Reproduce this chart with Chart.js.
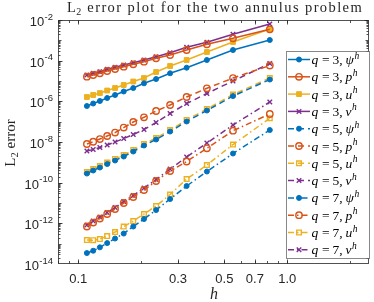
<!DOCTYPE html>
<html>
<head>
<meta charset="utf-8">
<script src="https://cdn.jsdelivr.net/npm/chart.js@4.4.0/dist/chart.umd.min.js"></script>
<style>
    html, body { margin: 0; padding: 0; background: #fff; }
    canvas { display: block; }
</style>
</head>
<body>
<canvas id="chart" width="374" height="302"></canvas>
<script>
// mesh sizes (ascending)
const hValues = [0.11, 0.1179, 0.1269, 0.1375, 0.15, 0.165, 0.1833, 0.2063, 0.2357, 0.275, 0.33, 0.4125, 0.55, 0.825];

// q = 3
const q3Psi = [5.89e-7, 7.81e-7, 1.04e-6, 1.46e-6, 2.05e-6, 3.04e-6, 4.52e-6, 7.69e-6, 1.25e-5, 2.39e-5, 4.51e-5, 1.08e-4, 3.34e-4, 1.04e-3];
const q3P = [1.63e-5, 1.97e-5, 2.39e-5, 3.10e-5, 3.89e-5, 5.05e-5, 6.62e-5, 8.89e-5, 1.31e-4, 1.90e-4, 3.34e-4, 6.38e-4, 1.26e-3, 3.49e-3];
const q3U = [1.63e-6, 2.05e-6, 2.56e-6, 3.40e-6, 4.52e-6, 6.35e-6, 9.44e-6, 1.40e-5, 2.77e-5, 5.46e-5, 1.08e-4, 2.67e-4, 8.28e-4, 3.61e-3];
const q3V = [1.97e-5, 2.39e-5, 2.86e-5, 3.76e-5, 4.71e-5, 6.12e-5, 7.94e-5, 1.08e-4, 1.57e-4, 2.46e-4, 4.54e-4, 8.00e-4, 1.98e-3, 6.35e-3];

// q = 5
const q5Psi = [2.81e-10, 3.96e-10, 5.56e-10, 8.26e-10, 1.23e-9, 1.93e-9, 3.41e-9, 6.72e-9, 1.33e-8, 3.27e-8, 1.02e-7, 3.54e-7, 1.82e-6, 1.18e-5];
const q5P = [7.96e-9, 1.03e-8, 1.40e-8, 1.97e-8, 2.92e-8, 5.15e-8, 9.61e-8, 1.64e-7, 3.34e-7, 6.59e-7, 1.63e-6, 4.37e-6, 1.40e-5, 5.78e-5];
const q5U = [3.33e-10, 4.69e-10, 6.59e-10, 9.79e-10, 1.46e-9, 2.29e-9, 4.04e-9, 7.96e-9, 1.57e-8, 3.88e-8, 1.21e-7, 4.19e-7, 2.16e-6, 1.40e-5];
const q5V = [3.60e-9, 4.27e-9, 5.36e-9, 7.10e-9, 9.98e-9, 1.48e-8, 2.33e-8, 4.11e-8, 9.08e-8, 2.52e-7, 7.81e-7, 2.43e-6, 1.00e-5, 7.25e-5];

// q = 7
const q7Psi = [3.46e-14, 4.49e-14, 6.60e-14, 1.07e-13, 1.79e-13, 3.15e-13, 6.97e-13, 1.63e-12, 4.51e-12, 1.57e-11, 6.84e-11, 3.53e-10, 2.71e-9, 3.88e-8];
const q7P = [6.97e-13, 1.09e-12, 1.72e-12, 2.87e-12, 5.05e-12, 9.98e-12, 1.97e-11, 4.35e-11, 1.21e-10, 3.74e-10, 1.10e-9, 4.89e-9, 3.59e-8, 2.38e-7];
const q7U = [1.51e-13, 1.48e-13, 1.69e-13, 2.37e-13, 3.73e-13, 6.97e-13, 1.30e-12, 2.87e-12, 7.10e-12, 2.61e-11, 1.51e-10, 7.38e-10, 7.52e-9, 1.46e-7];
const q7V = [8.24e-13, 1.30e-12, 2.04e-12, 3.40e-12, 5.98e-12, 1.18e-11, 2.33e-11, 5.45e-11, 1.43e-10, 4.69e-10, 1.82e-9, 8.91e-9, 6.84e-8, 9.27e-7];

const yTicks = [1e-14, 1e-12, 1e-10, 1e-8, 1e-6, 1e-4, 1e-2];
const yTickExponents = ["-14", "-12", "-10", "-8", "-6", "-4", "-2"];
const xTicks = [0.1, 0.3, 0.5, 0.7, 1.0];
const xTickLabels = ["0.1", "0.3", "0.5", "0.7", "1.0"];

const COLORS = { psi: "#0072BD", p: "#D95319", u: "#EDB120", v: "#7E2F8E" };
const DASHES = { 3: [], 5: [6, 4], 7: [6, 3, 1.5, 3] };

const SERIES = [
    { q: 3, key: "psi", sym: "ψ", values: q3Psi, marker: "dot" },
    { q: 3, key: "p", sym: "p", values: q3P, marker: "ring" },
    { q: 3, key: "u", sym: "u", values: q3U, marker: "square" },
    { q: 3, key: "v", sym: "v", values: q3V, marker: "cross" },
    { q: 5, key: "psi", sym: "ψ", values: q5Psi, marker: "dot" },
    { q: 5, key: "p", sym: "p", values: q5P, marker: "ring" },
    { q: 5, key: "u", sym: "u", values: q5U, marker: "openSquare" },
    { q: 5, key: "v", sym: "v", values: q5V, marker: "cross" },
    { q: 7, key: "psi", sym: "ψ", values: q7Psi, marker: "dot" },
    { q: 7, key: "p", sym: "p", values: q7P, marker: "ring" },
    { q: 7, key: "u", sym: "u", values: q7U, marker: "openSquare" },
    { q: 7, key: "v", sym: "v", values: q7V, marker: "cross" },
];

const MARKERS = {
    dot: { style: "circle", radius: 2.5, fill: true, width: 1 },
    ring: { style: "circle", radius: 3.2, fill: false, width: 1.4 },
    square: { style: "rect", radius: 3.4, fill: true, width: 1 },
    openSquare: { style: "rect", radius: 3.3, fill: false, width: 1.4 },
    cross: { style: "crossRot", radius: 3.2, fill: false, width: 1.4 },
};

const SERIF = "'Liberation Serif', 'Times New Roman', serif";
const SANS = "'Liberation Sans', Arial, sans-serif";
const AXIS_COLOR = "rgba(38, 38, 38, 0.8)";

function buildDataset(s) {
    const color = COLORS[s.key];
    const m = MARKERS[s.marker];
    return {
        label: "q = " + s.q + ", " + s.sym + "h",
        data: hValues.map((h, i) => ({ x: h, y: s.values[i] })),
        borderColor: color,
        backgroundColor: color,
        borderWidth: 1.5,
        borderDash: DASHES[s.q],
        tension: 0,
        fill: false,
        pointStyle: m.style,
        pointRadius: m.radius,
        pointBorderWidth: m.width,
        pointBorderColor: color,
        pointBackgroundColor: m.fill ? color : "rgba(0,0,0,0)",
    };
}

function drawMarker(ctx, kind, color, x, y) {
    const m = MARKERS[kind];
    ctx.save();
    ctx.setLineDash([]);
    ctx.strokeStyle = color;
    ctx.fillStyle = color;
    ctx.lineWidth = m.width;
    ctx.beginPath();
    if (m.style === "circle") {
        ctx.arc(x, y, m.radius, 0, Math.PI * 2);
    } else if (m.style === "rect") {
        const s = m.radius * Math.SQRT1_2;
        ctx.rect(x - s, y - s, 2 * s, 2 * s);
    } else {
        const d = m.radius * Math.SQRT1_2;
        ctx.moveTo(x - d, y - d);
        ctx.lineTo(x + d, y + d);
        ctx.moveTo(x - d, y + d);
        ctx.lineTo(x + d, y - d);
    }
    if (m.fill) {
        ctx.fill();
    }
    ctx.stroke();
    ctx.restore();
}

// box, inward ticks, tick labels, axis titles
const axesPlugin = {
    id: "matlabAxes",
    afterDatasetsDraw(chart) {
        const { ctx, chartArea: a } = chart;
        const xs = chart.scales.x;
        const ys = chart.scales.y;
        const L = Math.round(a.left) + 0.5;
        const R = Math.round(a.right) - 0.5;
        const T = Math.round(a.top) + 0.5;
        const B = Math.round(a.bottom) - 0.5;
        ctx.save();
        ctx.strokeStyle = AXIS_COLOR;
        ctx.lineWidth = 1;
        ctx.strokeRect(L, T, R - L, B - T);

        const yTick = (v, len) => {
            const py = Math.round(ys.getPixelForValue(v)) + 0.5;
            if (py < T - 0.1 || py > B + 0.1) return;
            ctx.beginPath();
            ctx.moveTo(L, py); ctx.lineTo(L + len, py);
            ctx.moveTo(R, py); ctx.lineTo(R - len, py);
            ctx.stroke();
        };
        const xTick = (v, len) => {
            const px = Math.round(xs.getPixelForValue(v)) + 0.5;
            if (px < L - 0.1 || px > R + 0.1) return;
            ctx.beginPath();
            ctx.moveTo(px, B); ctx.lineTo(px, B - len);
            ctx.moveTo(px, T); ctx.lineTo(px, T + len);
            ctx.stroke();
        };
        for (let e = -14; e <= -2; e++) {
            for (let k = 1; k <= 9; k++) {
                const v = k * Math.pow(10, e);
                if (v > 1.0001e-2) break;
                yTick(v, k === 1 ? 3 : 2);
            }
        }
        yTicks.forEach((v) => yTick(v, 4));
        for (let e = -2; e <= 0; e++) {
            for (let k = 1; k <= 9; k++) {
                xTick(k * Math.pow(10, e), 2.5);
            }
        }
        xTicks.forEach((v) => xTick(v, 4));

        // y tick labels: 10 with superscript exponent
        ctx.fillStyle = "#262626";
        ctx.textBaseline = "alphabetic";
        yTicks.forEach((v, i) => {
            const py = ys.getPixelForValue(v);
            const right = 53;
            ctx.font = "9.5px " + SANS;
            const supW = ctx.measureText(yTickExponents[i]).width;
            ctx.textAlign = "left";
            ctx.fillText(yTickExponents[i], right - supW, py - 0.5);
            ctx.font = "13px " + SANS;
            ctx.textAlign = "right";
            ctx.fillText("10", right - supW - 0.3, py + 6);
        });

        // x tick labels
        ctx.font = "13px " + SANS;
        ctx.textAlign = "center";
        xTicks.forEach((v, i) => {
            ctx.fillText(xTickLabels[i], xs.getPixelForValue(v), 283);
        });

        // x label
        ctx.font = "italic 16px " + SERIF;
        ctx.fillText("h", 214, 299);

        // y label (rotated)
        ctx.save();
        ctx.translate(14.5, 143);
        ctx.rotate(-Math.PI / 2);
        ctx.font = "15px " + SERIF;
        const w1 = ctx.measureText("L").width;
        ctx.font = "10.5px " + SERIF;
        const w2 = ctx.measureText("2").width;
        ctx.font = "15px " + SERIF;
        const w3 = ctx.measureText(" error").width;
        let x0 = -(w1 + w2 + w3) / 2;
        ctx.textAlign = "left";
        ctx.fillText("L", x0, 0);
        ctx.font = "10.5px " + SERIF;
        ctx.fillText("2", x0 + w1, 3);
        ctx.font = "15px " + SERIF;
        ctx.fillText(" error", x0 + w1 + w2, 0);
        ctx.restore();

        // title
        const titleRest = " error plot for the two annulus problem";
        const left = 67, right = 363;
        ctx.textAlign = "left";
        ctx.font = "14.5px " + SERIF;
        const tL = ctx.measureText("L").width;
        const tRest = ctx.measureText(titleRest).width;
        ctx.font = "10px " + SERIF;
        const t2 = ctx.measureText("2").width;
        const spacing = (right - left - tL - t2 - tRest) / (titleRest.length + 1);
        ctx.font = "14.5px " + SERIF;
        ctx.fillText("L", left, 12);
        ctx.font = "10px " + SERIF;
        ctx.fillText("2", left + tL + 0.5, 15);
        ctx.font = "14.5px " + SERIF;
        ctx.letterSpacing = spacing.toFixed(2) + "px";
        ctx.fillText(titleRest, left + tL + t2 + spacing, 12);
        ctx.letterSpacing = "0px";
        ctx.restore();
    },
};

const legendPlugin = {
    id: "matlabLegend",
    afterDraw(chart) {
        const ctx = chart.ctx;
        const bx = 286.5, by = 51.5, bw = 83, bh = 207;
        ctx.save();
        ctx.fillStyle = "#fff";
        ctx.fillRect(bx, by, bw, bh);
        ctx.strokeStyle = "rgba(38, 38, 38, 0.55)";
        ctx.lineWidth = 1;
        ctx.strokeRect(bx, by, bw, bh);

        SERIES.forEach((s, i) => {
            const y = 59.5 + i * 17.3;
            const color = COLORS[s.key];
            ctx.strokeStyle = color;
            ctx.lineWidth = 1.5;
            ctx.setLineDash(DASHES[s.q]);
            ctx.beginPath();
            ctx.moveTo(288, y);
            ctx.lineTo(310, y);
            ctx.stroke();
            ctx.setLineDash([]);
            drawMarker(ctx, s.marker, color, 299, y);

            const x0 = 311.5, base = y + 4.5;
            ctx.fillStyle = "#000";
            ctx.textAlign = "left";
            ctx.font = "italic 13.5px " + SERIF;
            ctx.fillText("q", x0, base);
            ctx.font = "13.5px " + SERIF;
            ctx.fillText("=", x0 + 10.5, base);
            ctx.fillText(String(s.q) + ",", x0 + 21, base);
            ctx.font = "italic 13.5px " + SERIF;
            ctx.fillText(s.sym, x0 + 34, base);
            const sw = ctx.measureText(s.sym).width;
            ctx.font = "italic 9.5px " + SERIF;
            ctx.fillText("h", x0 + 34 + sw + 0.5, base - 5.5);
        });
        ctx.restore();
    },
};

new Chart(document.getElementById("chart"), {
    type: "line",
    data: { datasets: SERIES.map(buildDataset) },
    options: {
        responsive: false,
        animation: false,
        events: [],
        layout: { padding: { top: 20, right: 2, left: 0, bottom: 0 } },
        scales: {
            x: {
                type: "logarithmic",
                min: 0.08,
                max: 2.45,
                afterFit: (s) => { s.height = 38; },
                ticks: { display: false },
                grid: { display: false },
                border: { display: false },
            },
            y: {
                type: "logarithmic",
                min: 1e-14,
                max: 1e-2,
                afterFit: (s) => { s.width = 58; },
                ticks: { display: false },
                grid: { display: false },
                border: { display: false },
            },
        },
        plugins: {
            legend: { display: false },
            tooltip: { enabled: false },
            title: { display: false },
        },
    },
    plugins: [axesPlugin, legendPlugin],
});
</script>
</body>
</html>
